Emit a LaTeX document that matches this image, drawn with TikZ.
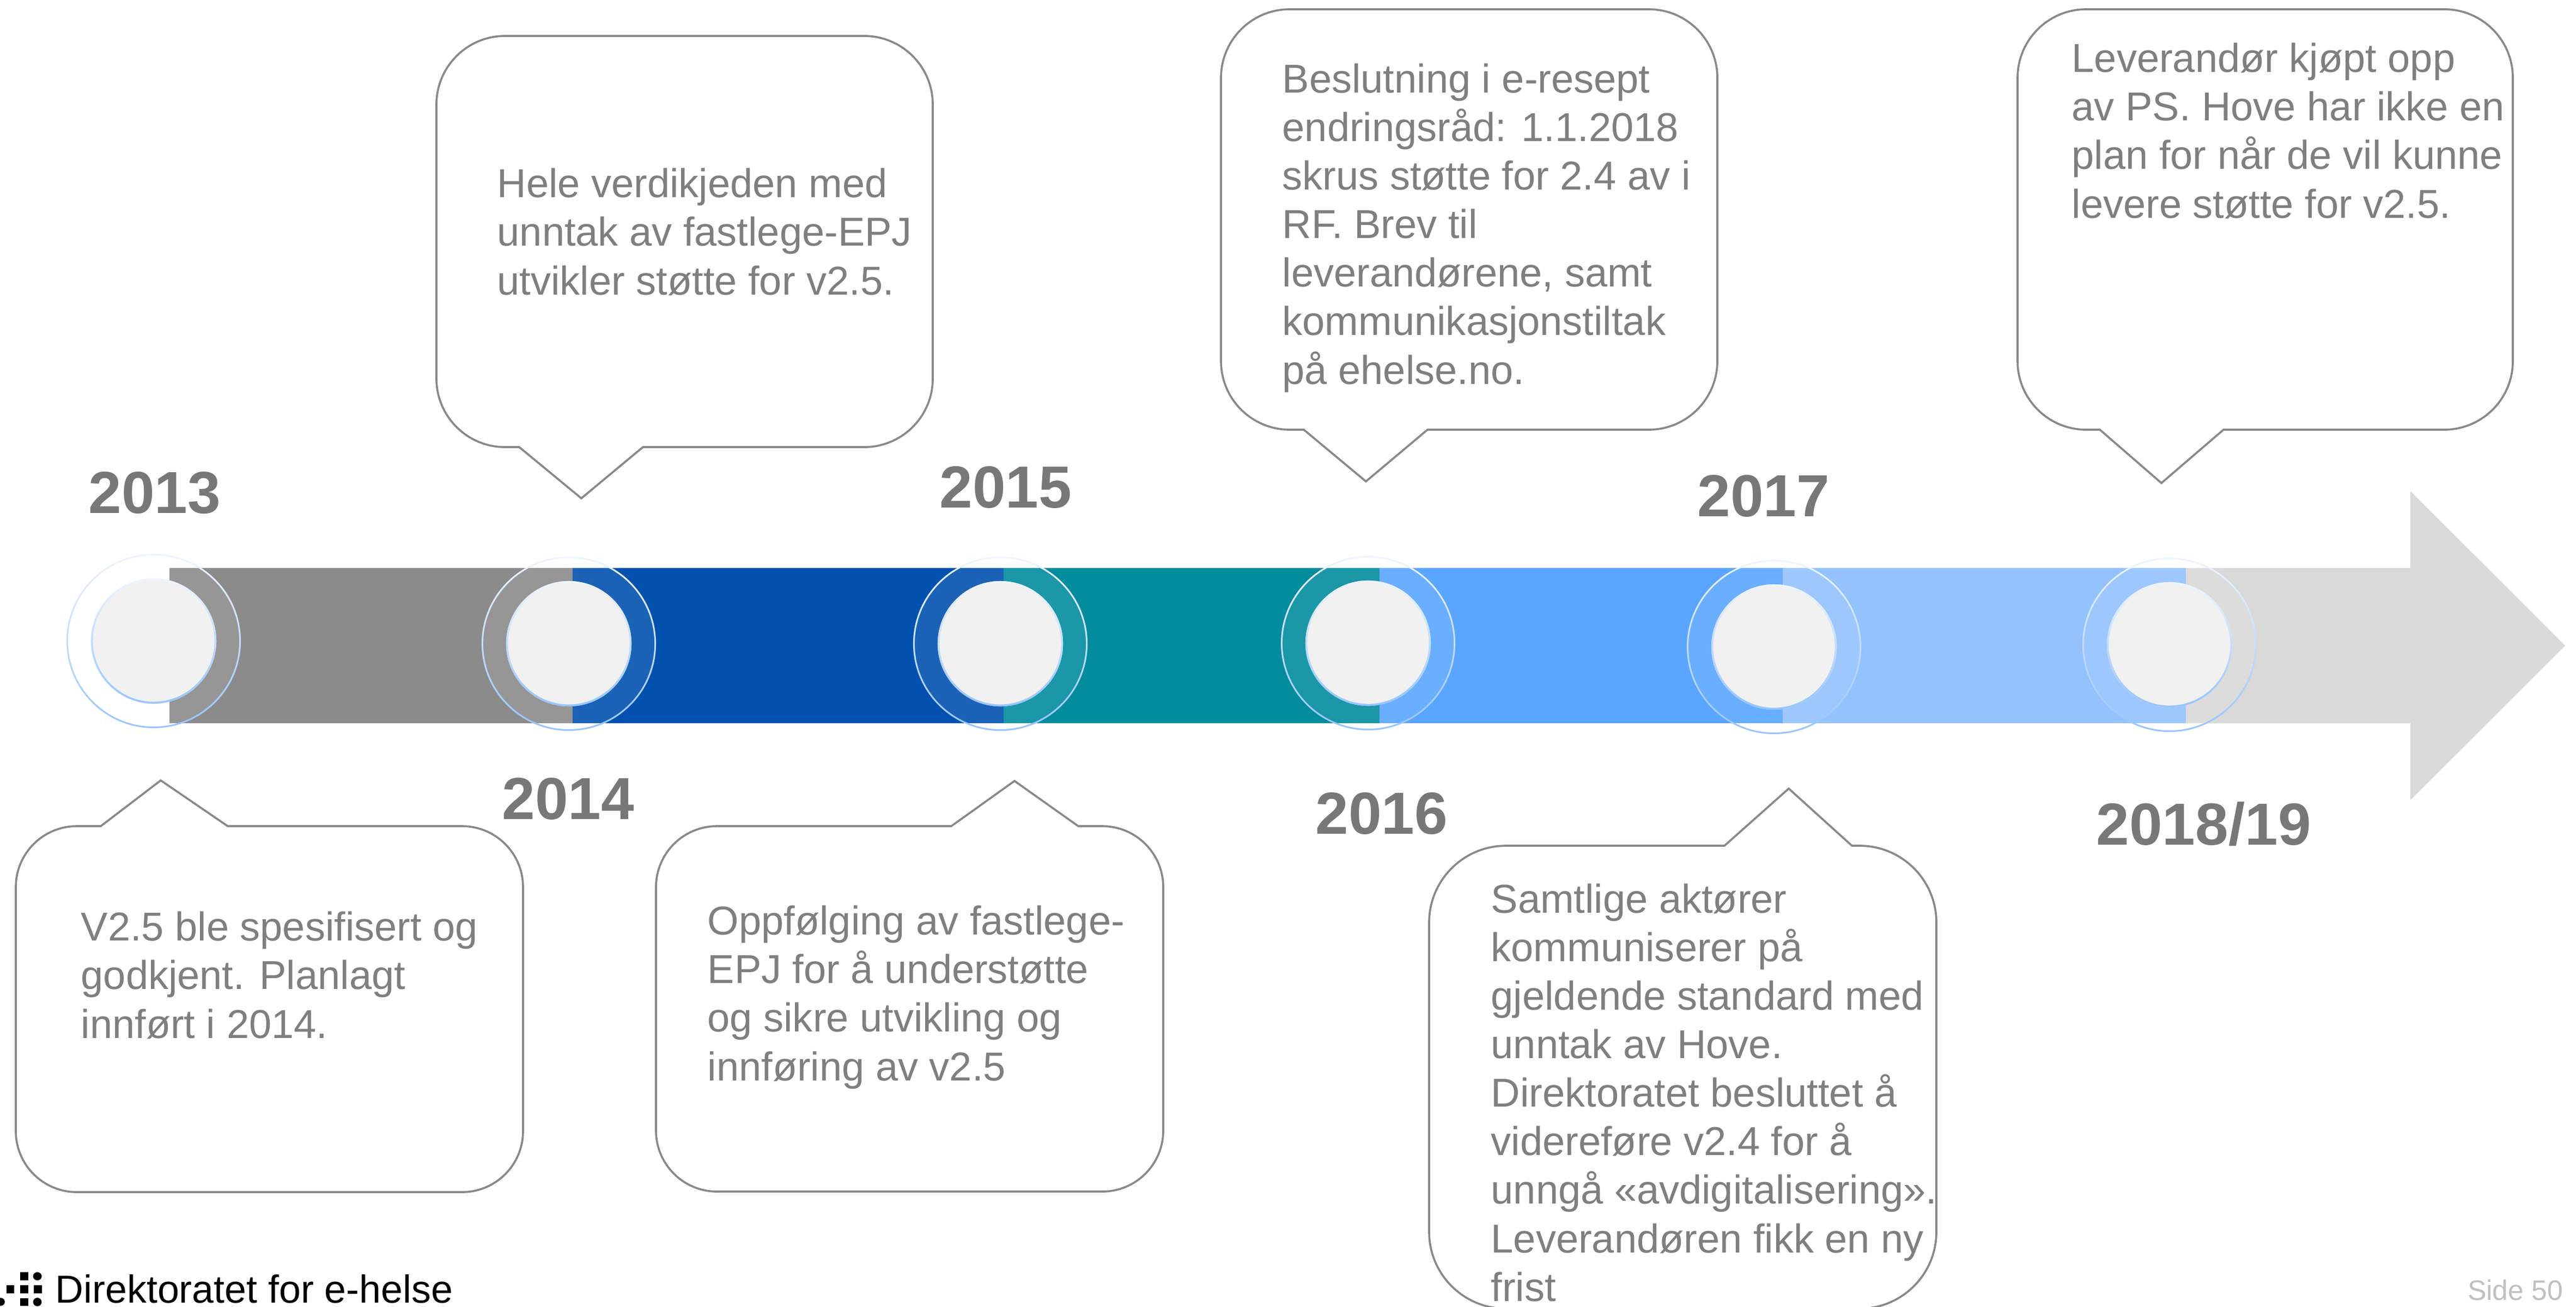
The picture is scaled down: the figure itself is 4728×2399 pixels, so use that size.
\documentclass[tikz,border=0pt]{standalone}
\usepackage{fontspec}
\setmainfont{Liberation Sans}
\definecolor{txt}{RGB}{127,127,127}
\definecolor{yr}{RGB}{120,120,120}
\definecolor{cline}{RGB}{137,137,137}
\definecolor{bgray}{RGB}{139,139,139}
\definecolor{bblue}{RGB}{2,81,175}
\definecolor{bteal}{RGB}{2,140,158}
\definecolor{blight}{RGB}{90,165,255}
\definecolor{blighter}{RGB}{147,194,253}
\definecolor{arrowgray}{RGB}{217,217,217}
\definecolor{ringtop}{RGB}{238,245,255}
\definecolor{ringbot}{RGB}{150,196,255}
\definecolor{disc}{RGB}{241,241,241}
\definecolor{pagenum}{RGB}{192,192,192}
\tikzset{
  callout/.style={draw=cline, fill=white, line width=1.05pt},
  body/.style={font=\fontsize{21.05pt}{25.32pt}\selectfont, text=txt, align=left, inner sep=0pt, anchor=base west},
  yearlbl/.style={font=\fontsize{31pt}{36pt}\selectfont\bfseries, text=yr, inner sep=0pt, anchor=base west},
  ringshade/.style={top color=ringtop, bottom color=ringbot, even odd rule},
}
% L T R B r pl pr ax ay  (pointer on bottom edge)
\newcommand{\calloutdown}[9]{%
\filldraw[callout] ({#1+#5},#2) -- ({#3-#5},#2) .. controls ({#3-0.4477*#5},#2) and (#3,{#2+0.4477*#5}) .. (#3,{#2+#5})
 -- (#3,{#4-#5}) .. controls (#3,{#4-0.4477*#5}) and ({#3-0.4477*#5},#4) .. ({#3-#5},#4)
 -- (#7,#4) -- (#8,#9) -- (#6,#4)
 -- ({#1+#5},#4) .. controls ({#1+0.4477*#5},#4) and (#1,{#4-0.4477*#5}) .. (#1,{#4-#5})
 -- (#1,{#2+#5}) .. controls (#1,{#2+0.4477*#5}) and ({#1+0.4477*#5},#2) .. ({#1+#5},#2) -- cycle;}
% L T R B r pl pr ax ay  (pointer on top edge)
\newcommand{\calloutup}[9]{%
\filldraw[callout] ({#1+#5},#2) -- (#6,#2) -- (#8,#9) -- (#7,#2)
 -- ({#3-#5},#2) .. controls ({#3-0.4477*#5},#2) and (#3,{#2+0.4477*#5}) .. (#3,{#2+#5})
 -- (#3,{#4-#5}) .. controls (#3,{#4-0.4477*#5}) and ({#3-0.4477*#5},#4) .. ({#3-#5},#4)
 -- ({#1+#5},#4) .. controls ({#1+0.4477*#5},#4) and (#1,{#4-0.4477*#5}) .. (#1,{#4-#5})
 -- (#1,{#2+#5}) .. controls (#1,{#2+0.4477*#5}) and ({#1+0.4477*#5},#2) .. ({#1+#5},#2) -- cycle;}
\begin{document}
\begin{tikzpicture}[x=0.01cm, y=-0.01cm]
\useasboundingbox (0,0) rectangle (4728,2399);
\fill[white] (0,0) rectangle (4728,2399);
% arrow
\fill[arrowgray] (311,1043) -- (4424,1043) -- (4424,902) -- (4708,1185.5) -- (4424,1469) -- (4424,1328) -- (311,1328) -- cycle;
% band segments
\fill[bgray] (311,1043) rectangle (1051,1328);
\fill[bblue] (1051,1043) rectangle (1842,1328);
\fill[bteal] (1842,1043) rectangle (2532,1328);
\fill[blight] (2532,1043) rectangle (3272,1328);
\fill[blighter] (3272,1043) rectangle (4012,1328);
% milestones
\foreach \cx/\cy in {282/1177, 1044/1182, 1836/1182, 2511/1181, 3256/1188, 3982/1184} {
  \fill[white, fill opacity=0.1] (\cx,\cy) circle[radius=1.6cm];
  \shade[ringshade] (\cx,\cy) circle[radius=1.6cm] (\cx,\cy) circle[radius=1.57cm];
  \fill[disc] (\cx,\cy) circle[radius=1.15cm];
  \shade[ringshade] (\cx,\cy) circle[radius=1.15cm] (\cx,\cy) circle[radius=1.115cm];
}
% callouts above
\calloutdown{801}{66}{1712}{821}{126}{953}{1180}{1067}{915}
\calloutdown{2241}{17}{3152}{789}{126}{2393}{2620}{2507}{884}
\calloutdown{3703}{17}{4612}{789}{126}{3854}{4081}{3967}{887}
% callouts below
\calloutup{29}{1517}{960}{2189}{112}{185}{418}{295}{1433}
\calloutup{1204}{1517}{2135}{2188}{112}{1746}{1979}{1862}{1434}
\calloutup{2623}{1553}{3554}{2403}{141}{3165}{3399}{3283}{1448}
% callout texts (anchored at the baseline of the last line)
\node[body] (t14) at (912,541) {Hele verdikjeden med\\unntak av fastlege-EPJ\\utvikler støtte for v2.5.};
\node[body] (t16) at (2353,705) {Beslutning i e-resept\\endringsråd: 1.1.2018\\skrus støtte for 2.4 av i\\RF. Brev til\\leverandørene, samt\\kommunikasjonstiltak\\på ehelse.no.};
\node[body] (t18) at (3802,400) {Leverandør kjøpt opp\\av PS. Hove har ikke en\\plan for når de vil kunne\\levere støtte for v2.5.};
\node[body] (t13) at (148,1906) {V2.5 ble spesifisert og\\godkjent. Planlagt\\innført i 2014.};
\node[body] (t15) at (1298,1984) {Oppfølging av fastlege-\\EPJ for å understøtte\\og sikre utvikling og\\innføring av v2.5};
\node[body] (t17) at (2736,2389) {Samtlige aktører\\kommuniserer på\\gjeldende standard med\\unntak av Hove.\\Direktoratet besluttet å\\videreføre v2.4 for å\\unngå «avdigitalisering».\\Leverandøren fikk en ny\\frist};
% years
\node[yearlbl] (y2013) at (162,942) {2013};
\node[yearlbl] (y2014) at (921,1504) {2014};
\node[yearlbl] (y2015) at (1724,932) {2015};
\node[yearlbl] (y2016) at (2414,1531) {2016};
\node[yearlbl] (y2017) at (3115,948) {2017};
\node[yearlbl] (y2018) at (3847,1551) {2018/19};
% footer logo
\fill[black] (37.3,2336) rectangle (51.9,2350.5);
\fill[black] (68.6,2343.5) ellipse[x radius=0.08cm, y radius=0.075cm];
\fill[black] (11.5,2360) rectangle (25.5,2375);
\fill[black] (37.3,2360) rectangle (51.9,2375);
\fill[black] (61.9,2360) rectangle (76.5,2375);
\fill[black] (1.5,2390.5) circle[radius=0.073cm];
\fill[black] (37.3,2383.5) rectangle (51.9,2398);
\fill[black] (68.6,2390.8) circle[radius=0.078cm];
\node[anchor=base west, inner sep=0pt, font=\fontsize{20.4pt}{24pt}\selectfont, text=black] (org) at (101,2392) {Direktoratet for e-helse};
\node[anchor=base east, inner sep=0pt, font=\fontsize{14.7pt}{17pt}\selectfont, text=pagenum] (pagenr) at (4705,2387) {Side 50};
\end{tikzpicture}
\end{document}
